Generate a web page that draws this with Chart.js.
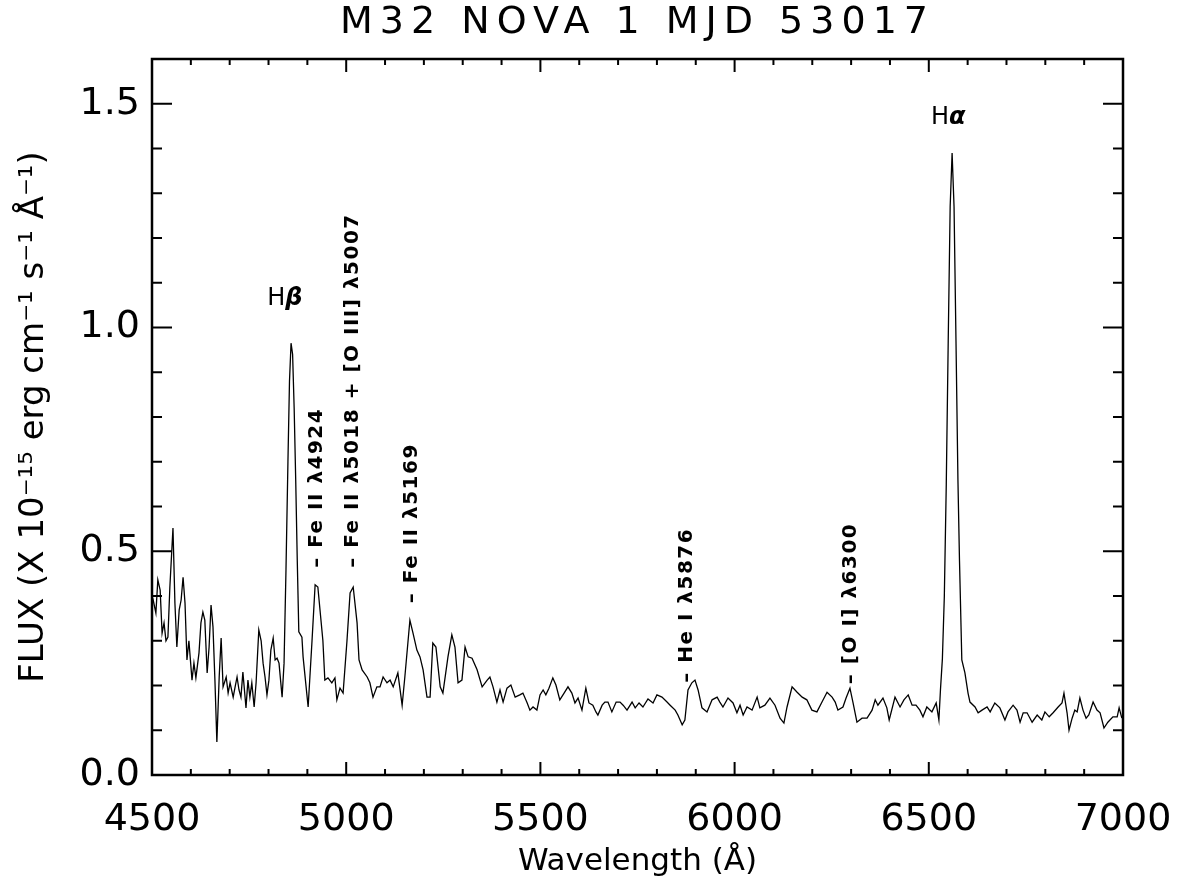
<!DOCTYPE html>
<html>
<head>
<meta charset="utf-8">
<script src="https://cdn.jsdelivr.net/npm/chart.js@4.4.1/dist/chart.umd.min.js"></script>
<style>
  html, body { margin: 0; padding: 0; background: #fff; }
  #wrap { width: 1188px; height: 895px; }
</style>
</head>
<body>
<div id="wrap"><canvas id="novaChart" width="1188" height="895"></canvas></div>
<script>
// spectrum: wavelength (A) and flux (1e-15 erg/cm2/s/A)
const wavelength = [
  4500, 4503, 4510, 4515, 4521, 4526, 4531, 4536, 4541, 4546, 4554, 4559, 4564, 4570, 4575, 4580,
  4585, 4590, 4595, 4603, 4608, 4613, 4621, 4626, 4631, 4636, 4642, 4647, 4652, 4657, 4662, 4667,
  4673, 4678, 4683, 4691, 4696, 4701, 4709, 4714, 4719, 4724, 4729, 4734, 4742, 4747, 4752, 4757,
  4763, 4768, 4775, 4781, 4786, 4791, 4796, 4801, 4806, 4812, 4817, 4822, 4827, 4835, 4840, 4845,
  4850, 4854, 4858, 4862, 4866, 4870, 4874, 4878, 4886, 4889, 4902, 4912, 4920, 4927, 4940, 4945,
  4953, 4963, 4971, 4976, 4984, 4992, 5002, 5010, 5018, 5028, 5033, 5041, 5054, 5061, 5069, 5079,
  5087, 5095, 5105, 5113, 5121, 5133, 5144, 5151, 5164, 5172, 5182, 5190, 5198, 5208, 5216, 5223,
  5231, 5242, 5249, 5262, 5272, 5280, 5288, 5298, 5306, 5314, 5324, 5337, 5350, 5363, 5370, 5378,
  5388, 5396, 5404, 5414, 5424, 5435, 5447, 5455, 5466, 5473, 5481, 5491, 5499, 5507, 5514, 5522,
  5532, 5540, 5550, 5561, 5571, 5581, 5589, 5597, 5607, 5617, 5625, 5635, 5643, 5648, 5659, 5666,
  5674, 5684, 5695, 5705, 5713, 5723, 5736, 5744, 5754, 5764, 5777, 5790, 5800, 5813, 5826, 5834,
  5847, 5854, 5865, 5872, 5880, 5890, 5898, 5906, 5916, 5929, 5942, 5955, 5962, 5970, 5983, 5996,
  6006, 6014, 6022, 6032, 6045, 6058, 6065, 6078, 6091, 6104, 6117, 6127, 6135, 6148, 6161, 6174,
  6186, 6199, 6212, 6225, 6238, 6251, 6259, 6266, 6279, 6287, 6297, 6305, 6315, 6328, 6341, 6354,
  6362, 6369, 6382, 6392, 6398, 6413, 6426, 6436, 6447, 6457, 6467, 6477, 6485, 6495, 6508, 6519,
  6526, 6530, 6535, 6540, 6545, 6550, 6555, 6560, 6565, 6570, 6575, 6579, 6585, 6593, 6601, 6606,
  6619, 6627, 6637, 6650, 6658, 6670, 6683, 6696, 6704, 6717, 6727, 6735, 6743, 6753, 6766, 6779,
  6791, 6799, 6810, 6820, 6833, 6843, 6848, 6856, 6861, 6869, 6876, 6882, 6889, 6897, 6905, 6912,
  6923, 6933, 6941, 6951, 6961, 6974, 6985, 6990, 6997
];
const flux = [
  0.400, 0.391, 0.362, 0.436, 0.413, 0.317, 0.340, 0.300, 0.308, 0.420, 0.552, 0.384, 0.286, 0.369, 0.391, 0.442,
  0.384, 0.257, 0.300, 0.212, 0.250, 0.217, 0.273, 0.340, 0.364, 0.346, 0.228, 0.286, 0.380, 0.331, 0.212, 0.074,
  0.219, 0.306, 0.197, 0.219, 0.183, 0.206, 0.174, 0.197, 0.219, 0.190, 0.174, 0.230, 0.150, 0.212, 0.174, 0.206,
  0.152, 0.206, 0.324, 0.300, 0.250, 0.219, 0.179, 0.212, 0.279, 0.306, 0.257, 0.261, 0.250, 0.174, 0.250, 0.460,
  0.700, 0.880, 0.965, 0.940, 0.820, 0.660, 0.480, 0.320, 0.308, 0.264, 0.152, 0.300, 0.425, 0.420, 0.300, 0.212,
  0.217, 0.206, 0.217, 0.168, 0.194, 0.183, 0.300, 0.407, 0.420, 0.340, 0.257, 0.235, 0.219, 0.206, 0.174, 0.197,
  0.197, 0.219, 0.206, 0.212, 0.197, 0.228, 0.156, 0.219, 0.346, 0.317, 0.279, 0.264, 0.235, 0.174, 0.174, 0.295,
  0.286, 0.197, 0.183, 0.264, 0.313, 0.286, 0.206, 0.212, 0.286, 0.264, 0.261, 0.235, 0.197, 0.212, 0.219, 0.197,
  0.163, 0.190, 0.163, 0.194, 0.201, 0.174, 0.179, 0.183, 0.161, 0.145, 0.152, 0.145, 0.179, 0.190, 0.179, 0.194,
  0.217, 0.201, 0.168, 0.183, 0.197, 0.183, 0.161, 0.172, 0.145, 0.194, 0.161, 0.156, 0.141, 0.134, 0.156, 0.163,
  0.163, 0.141, 0.163, 0.163, 0.156, 0.145, 0.163, 0.150, 0.161, 0.152, 0.170, 0.161, 0.179, 0.174, 0.163, 0.156,
  0.145, 0.134, 0.112, 0.123, 0.190, 0.206, 0.212, 0.190, 0.150, 0.141, 0.168, 0.174, 0.163, 0.152, 0.172, 0.161,
  0.139, 0.156, 0.134, 0.152, 0.145, 0.174, 0.150, 0.156, 0.172, 0.156, 0.127, 0.116, 0.152, 0.197, 0.185, 0.174,
  0.168, 0.145, 0.141, 0.163, 0.185, 0.174, 0.163, 0.145, 0.152, 0.172, 0.194, 0.161, 0.118, 0.127, 0.127, 0.145,
  0.168, 0.156, 0.172, 0.150, 0.123, 0.174, 0.152, 0.168, 0.179, 0.156, 0.156, 0.145, 0.130, 0.152, 0.141, 0.161,
  0.123, 0.190, 0.260, 0.400, 0.650, 0.970, 1.270, 1.390, 1.270, 0.970, 0.660, 0.480, 0.257, 0.228, 0.183, 0.163,
  0.152, 0.139, 0.145, 0.152, 0.141, 0.161, 0.150, 0.123, 0.141, 0.156, 0.145, 0.118, 0.139, 0.139, 0.118, 0.134,
  0.123, 0.141, 0.130, 0.139, 0.152, 0.161, 0.183, 0.139, 0.100, 0.127, 0.145, 0.141, 0.172, 0.145, 0.127, 0.134,
  0.163, 0.145, 0.139, 0.105, 0.118, 0.130, 0.130, 0.150, 0.127
];

// axis tick labels
const xTicks = [4500, 5000, 5500, 6000, 6500, 7000];
const xTickLabels = ['4500', '5000', '5500', '6000', '6500', '7000'];
const yTicks = [0, 0.5, 1.0, 1.5];
const yTickLabels = ['0.0', '0.5', '1.0', '1.5'];

// line identifications
const peakNames = ['H', 'H'];
const peakGreek = ['β', 'α'];
const peakWave = [4842, 6550];
const peakFlux = [1.064, 1.468];

const lineIds = ['– Fe II λ4924', '– Fe II λ5018 + [O III] λ5007', '– Fe II λ5169', '– He I λ5876', '– [O I] λ6300'];
const lineIdWave = [4924, 5018, 5169, 5876, 6300];
const lineIdFlux = [0.463, 0.463, 0.384, 0.206, 0.203];

const FONT = '"DejaVu Sans", sans-serif';
Chart.defaults.font.family = FONT;
Chart.defaults.color = '#000';

// IDL style box: frame plus inward ticks on all sides
const frameTicks = {
  id: 'frameTicks',
  afterDatasetsDraw(chart) {
    const { ctx, chartArea: a, scales: { x, y } } = chart;
    ctx.save();
    ctx.strokeStyle = '#000';
    ctx.lineWidth = 2;
    ctx.beginPath();
    for (let v = 4500; v <= 7000; v += 100) {
      const px = x.getPixelForValue(v);
      const len = v % 500 === 0 ? 13 : 6;
      ctx.moveTo(px, a.bottom); ctx.lineTo(px, a.bottom - len);
      ctx.moveTo(px, a.top); ctx.lineTo(px, a.top + len);
    }
    for (let i = 0; i <= 16; i++) {
      const py = y.getPixelForValue(i / 10);
      const len = i % 5 === 0 ? 20 : 10;
      ctx.moveTo(a.left, py); ctx.lineTo(a.left + len, py);
      ctx.moveTo(a.right, py); ctx.lineTo(a.right - len, py);
    }
    ctx.stroke();
    ctx.lineWidth = 2.5;
    ctx.strokeRect(a.left, a.top, a.right - a.left, a.bottom - a.top);
    ctx.restore();
  }
};

// labels for the emission lines
const lineLabels = {
  id: 'lineLabels',
  afterDatasetsDraw(chart) {
    const { ctx, scales: { x, y } } = chart;
    ctx.save();
    ctx.fillStyle = '#000';
    ctx.textBaseline = 'middle';
    ctx.textAlign = 'left';
    peakNames.forEach((name, i) => {
      const cx = x.getPixelForValue(peakWave[i]);
      const cy = y.getPixelForValue(peakFlux[i]);
      ctx.font = '24px ' + FONT;
      const w1 = ctx.measureText(name).width;
      ctx.font = 'italic bold 24px ' + FONT;
      const w2 = ctx.measureText(peakGreek[i]).width;
      const x0 = cx - (w1 + w2) / 2;
      ctx.font = '24px ' + FONT;
      ctx.fillText(name, x0, cy);
      ctx.font = 'italic bold 24px ' + FONT;
      ctx.fillText(peakGreek[i], x0 + w1, cy);
    });
    ctx.font = 'bold 20px ' + FONT;
    ctx.letterSpacing = '1.5px';
    lineIds.forEach((txt, i) => {
      ctx.save();
      ctx.translate(x.getPixelForValue(lineIdWave[i]), y.getPixelForValue(lineIdFlux[i]));
      ctx.rotate(-Math.PI / 2);
      ctx.fillText(txt, 0, 0);
      ctx.restore();
    });
    ctx.restore();
  }
};

// wider letter spacing for the title, like the original
const spacedTitle = {
  id: 'spacedTitle',
  beforeDraw(chart) {
    const tb = chart.titleBlock;
    if (!tb || tb._spaced) return;
    const draw = tb.draw;
    tb.draw = function (...args) {
      this.ctx.save();
      this.ctx.letterSpacing = '7px';
      draw.apply(this, args);
      this.ctx.restore();
    };
    tb._spaced = true;
  }
};

const ctx = document.getElementById('novaChart').getContext('2d');
const novaChart = new Chart(ctx, {
  type: 'line',
  data: {
    datasets: [{
      label: 'M32 Nova 1',
      data: wavelength.map((w, i) => ({ x: w, y: flux[i] })),
      borderColor: '#000',
      borderWidth: 1.3,
      pointRadius: 0,
      tension: 0,
      fill: false
    }]
  },
  options: {
    responsive: false,
    animation: false,
    layout: { padding: { left: 0, right: 65, top: 0, bottom: 0 } },
    plugins: {
      legend: { display: false },
      tooltip: { enabled: false },
      title: {
        display: true,
        text: 'M32 NOVA 1 MJD 53017',
        fullSize: false,
        color: '#000',
        font: { size: 38, weight: 'normal', lineHeight: 1 },
        padding: { top: 4, bottom: 17 }
      }
    },
    scales: {
      x: {
        type: 'linear',
        min: 4500,
        max: 7000,
        afterFit(s) { s.height = 120; s.paddingLeft = 0; s.paddingRight = 0; },
        afterBuildTicks(s) { s.ticks = xTicks.map(v => ({ value: v })); },
        ticks: {
          callback: (v) => xTickLabels[xTicks.indexOf(v)],
          font: { size: 38 },
          padding: 22,
          maxRotation: 0,
          autoSkip: false
        },
        grid: { display: false, drawTicks: false },
        border: { display: false },
        title: {
          display: true,
          text: 'Wavelength (Å)',
          font: { size: 31 },
          padding: { top: 0, bottom: 14 }
        }
      },
      y: {
        type: 'linear',
        min: 0,
        max: 1.6,
        afterFit(s) { s.width = 152; s.paddingTop = 0; s.paddingBottom = 0; },
        afterBuildTicks(s) { s.ticks = yTicks.map(v => ({ value: v })); },
        ticks: {
          callback: (v) => yTickLabels[yTicks.indexOf(v)],
          font: { size: 38 },
          padding: 12
        },
        grid: { display: false, drawTicks: false },
        border: { display: false },
        title: {
          display: true,
          text: 'FLUX (X 10⁻¹⁵ erg cm⁻¹ s⁻¹ Å⁻¹)',
          font: { size: 34 },
          padding: { top: 14, bottom: 0 }
        }
      }
    }
  },
  plugins: [frameTicks, lineLabels, spacedTitle]
});
</script>
</body>
</html>
